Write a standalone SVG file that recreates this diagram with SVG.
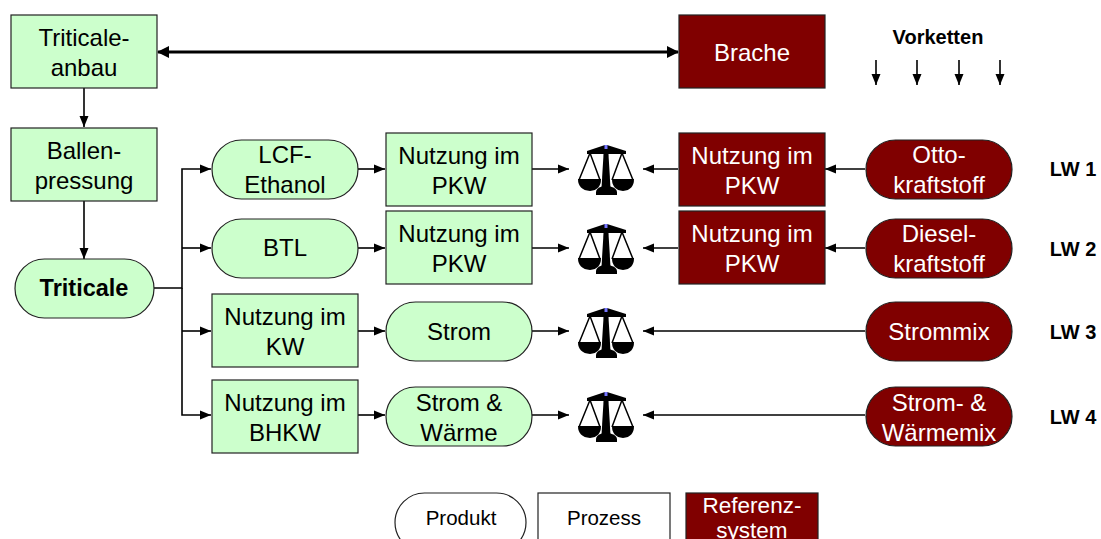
<svg xmlns="http://www.w3.org/2000/svg" xmlns:xlink="http://www.w3.org/1999/xlink" width="1101" height="539" viewBox="0 0 1101 539">
<style>
text{font-family:"Liberation Sans",Arial,sans-serif;font-size:24px;text-anchor:middle;fill:#000}
.g{fill:#ccffcc;stroke:#222;stroke-width:1.2}
.r{fill:#800000;stroke:#222;stroke-width:1.2}
.w{fill:#fff;stroke:#222;stroke-width:1.2}
text.rt{fill:#fff}
text.b{font-weight:bold;font-size:20px}
text.l{font-size:20.5px}
text.m{font-size:22.5px}
.c{fill:none;stroke:#000;stroke-width:1.6}
.t{fill:none;stroke:#000;stroke-width:3}
</style>
<defs>
<marker id="a" markerUnits="userSpaceOnUse" markerWidth="12" markerHeight="10" refX="11" refY="5" orient="auto"><path d="M0 0.5L11 5L0 9.5z" fill="#000"/></marker>
<marker id="as" markerUnits="userSpaceOnUse" markerWidth="12" markerHeight="12" refX="1" refY="6" orient="auto"><path d="M12 0L0 6L12 12z" fill="#000"/></marker>
<marker id="ae" markerUnits="userSpaceOnUse" markerWidth="12" markerHeight="12" refX="11" refY="6" orient="auto"><path d="M0 0L12 6L0 12z" fill="#000"/></marker>
<g id="scale">
<path d="M-19 -18L-1 -24H1L20 -18V-15H-19z" fill="#000"/>
<path d="M-2 -23H2L4.500 19H-4.500z" fill="#000"/>
<path d="M-10 23Q-10 19 -3 17H3Q11 19 11 23V26H-10z" fill="#000"/>
<path d="M-16 -16L-27 11M-16 -16L-6 11M16 -16L6 11M16 -16L27 11" fill="none" stroke="#000" stroke-width="1.5"/>
<path d="M-28 10H-5Q-5 21 -16 22Q-28 21 -28 10z" fill="#000"/>
<path d="M6 10H28Q28 21 17 22Q6 21 6 10z" fill="#000"/>
<rect x="-1.500" y="-24" width="3" height="4" fill="#7777ff"/>
</g>
</defs>
<g id="connectors">
<path class="t" d="M158 52H678" marker-start="url(#as)" marker-end="url(#ae)"/>
<path class="c" d="M84 88V127" marker-end="url(#a)"/>
<path class="c" d="M84 201V259" marker-end="url(#a)"/>
<path class="c" d="M154 288H182V169H211" marker-end="url(#a)"/>
<path class="c" d="M182 248H211" marker-end="url(#a)"/>
<path class="c" d="M182 288V415H211" marker-end="url(#a)"/>
<path class="c" d="M182 331H211" marker-end="url(#a)"/>
<path class="c" d="M358 169H385" marker-end="url(#a)"/>
<path class="c" d="M358 248H385" marker-end="url(#a)"/>
<path class="c" d="M358 331H385" marker-end="url(#a)"/>
<path class="c" d="M358 415H385" marker-end="url(#a)"/>
<path class="c" d="M532 169H569" marker-end="url(#a)"/>
<path class="c" d="M532 248H569" marker-end="url(#a)"/>
<path class="c" d="M532 331H569" marker-end="url(#a)"/>
<path class="c" d="M532 415H569" marker-end="url(#a)"/>
<path class="c" d="M678 169H643" marker-end="url(#a)"/>
<path class="c" d="M678 248H643" marker-end="url(#a)"/>
<path class="c" d="M865 169H825" marker-end="url(#a)"/>
<path class="c" d="M865 248H825" marker-end="url(#a)"/>
<path class="c" d="M865 331H643" marker-end="url(#a)"/>
<path class="c" d="M865 415H643" marker-end="url(#a)"/>
<path class="c" d="M876 60V85" marker-end="url(#a)"/>
<path class="c" d="M917 60V85" marker-end="url(#a)"/>
<path class="c" d="M959 60V85" marker-end="url(#a)"/>
<path class="c" d="M1000 60V85" marker-end="url(#a)"/>
</g>
<g id="n-anbau"><rect class="g" x="11" y="15" width="146" height="73"/><text x="84" y="46">Triticale-</text><text x="84" y="76">anbau</text></g>
<g id="n-brache"><rect class="r" x="679" y="15" width="146" height="73"/><text class="rt" x="752" y="61">Brache</text></g>
<g id="n-vorketten"><text class="b" x="938" y="44">Vorketten</text></g>
<g id="n-ballen"><rect class="g" x="11" y="128" width="146" height="73"/><text x="84" y="159">Ballen-</text><text x="84" y="189">pressung</text></g>
<g id="n-triticale"><rect class="g" x="15" y="259" width="139" height="59" rx="29.500"/><text x="84" y="296" font-weight="bold" style="font-size:23.500px">Triticale</text></g>
<g id="n-lcf"><rect class="g" x="212" y="140" width="146" height="59" rx="29.500"/><text x="285" y="163">LCF-</text><text x="285" y="193">Ethanol</text></g>
<g id="n-btl"><rect class="g" x="212" y="219" width="146" height="59" rx="29.500"/><text x="285" y="256">BTL</text></g>
<g id="n-kw"><rect class="g" x="212" y="294" width="146" height="73"/><text x="285" y="325">Nutzung im</text><text x="285" y="355">KW</text></g>
<g id="n-bhkw"><rect class="g" x="212" y="380" width="146" height="73"/><text x="285" y="411">Nutzung im</text><text x="285" y="441">BHKW</text></g>
<g id="n-pkw1"><rect class="g" x="386" y="133" width="146" height="73"/><text x="459" y="164">Nutzung im</text><text x="459" y="194">PKW</text></g>
<g id="n-pkw2"><rect class="g" x="386" y="211" width="146" height="73"/><text x="459" y="242">Nutzung im</text><text x="459" y="272">PKW</text></g>
<g id="n-strom"><rect class="g" x="386" y="302" width="146" height="59" rx="29.500"/><text x="459" y="340">Strom</text></g>
<g id="n-sw"><rect class="g" x="386" y="387" width="146" height="59" rx="29.500"/><text x="459" y="411">Strom &amp;</text><text x="459" y="441">Wärme</text></g>
<g id="n-waage1"><use xlink:href="#scale" href="#scale" x="606" y="169"/></g>
<g id="n-waage2"><use xlink:href="#scale" href="#scale" x="606" y="248"/></g>
<g id="n-waage3"><use xlink:href="#scale" href="#scale" x="606" y="332"/></g>
<g id="n-waage4"><use xlink:href="#scale" href="#scale" x="606" y="416"/></g>
<g id="n-rpkw1"><rect class="r" x="679" y="133" width="146" height="73"/><text class="rt" x="752" y="164">Nutzung im</text><text class="rt" x="752" y="194">PKW</text></g>
<g id="n-rpkw2"><rect class="r" x="679" y="211" width="146" height="73"/><text class="rt" x="752" y="242">Nutzung im</text><text class="rt" x="752" y="272">PKW</text></g>
<g id="n-otto"><rect class="r" x="866" y="140" width="146" height="59" rx="29.500"/><text class="rt" x="939" y="163">Otto-</text><text class="rt" x="939" y="193">kraftstoff</text></g>
<g id="n-diesel"><rect class="r" x="866" y="219" width="146" height="59" rx="29.500"/><text class="rt" x="939" y="242">Diesel-</text><text class="rt" x="939" y="272">kraftstoff</text></g>
<g id="n-mix"><rect class="r" x="866" y="302" width="146" height="59" rx="29.500"/><text class="rt" x="939" y="340">Strommix</text></g>
<g id="n-wmix"><rect class="r" x="866" y="387" width="146" height="59" rx="29.500"/><text class="rt" x="939" y="411">Strom- &amp;</text><text class="rt" x="939" y="441">Wärmemix</text></g>
<g id="n-lw1"><text class="b" x="1073" y="176">LW 1</text></g>
<g id="n-lw2"><text class="b" x="1073" y="256">LW 2</text></g>
<g id="n-lw3"><text class="b" x="1073" y="339">LW 3</text></g>
<g id="n-lw4"><text class="b" x="1073" y="424">LW 4</text></g>
<g id="n-produkt"><rect class="w" x="395" y="493" width="131" height="59" rx="29.500"/><text class="l" x="461" y="525">Produkt</text></g>
<g id="n-prozess"><rect class="w" x="538" y="493" width="132" height="59"/><text class="l" x="604" y="525">Prozess</text></g>
<g id="n-ref"><rect class="r" x="686" y="493" width="132" height="59"/><text class="rt m" x="752" y="513">Referenz-</text><text class="rt m" x="752" y="538">system</text></g>
</svg>
